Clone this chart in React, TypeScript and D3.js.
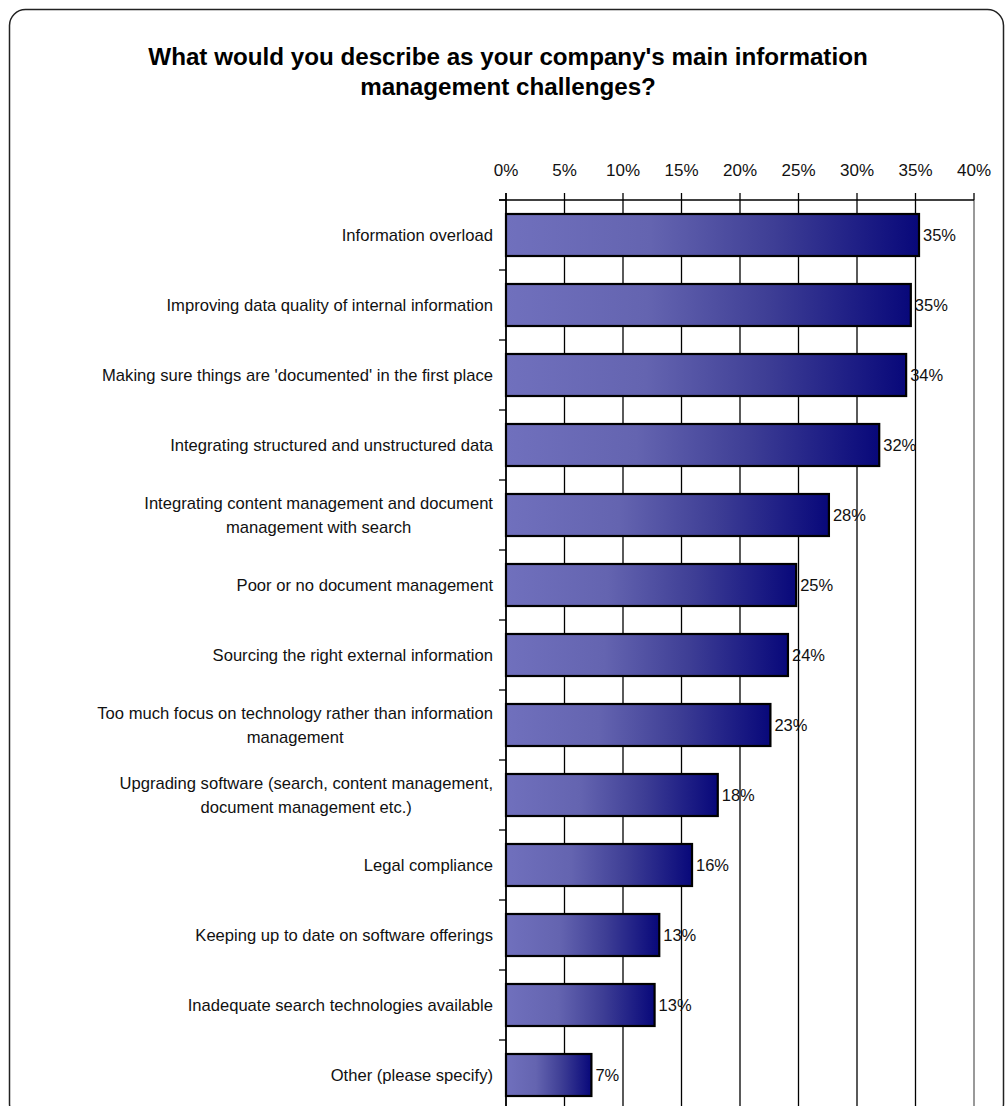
import React, { useEffect, useRef } from "react";
import * as d3 from "d3";

const categories: string[] = [
  "Information overload",
  "Improving data quality of internal information",
  "Making sure things are 'documented' in the first place",
  "Integrating structured and unstructured data",
  "Integrating content management and document\nmanagement with search",
  "Poor or no document management",
  "Sourcing the right external information",
  "Too much focus on technology rather than information\nmanagement",
  "Upgrading software (search, content management,\ndocument management etc.)",
  "Legal compliance",
  "Keeping up to date on software offerings",
  "Inadequate search technologies available",
  "Other (please specify)",
];
const values: number[] = [35.3, 34.6, 34.2, 31.9, 27.6, 24.8, 24.1, 22.6, 18.1, 15.9, 13.1, 12.7, 7.3];
const valueLabels: string[] = ["35%", "35%", "34%", "32%", "28%", "25%", "24%", "23%", "18%", "16%", "13%", "13%", "7%"];
const ticks: number[] = [0, 5, 10, 15, 20, 25, 30, 35, 40];
const titleLines: string[] = [
  "What would you describe as your company's main information",
  "management challenges?",
];

const W = 1007;
const H = 1106;
const FONT = "'Liberation Sans', Arial, Helvetica, sans-serif";

export default function App() {
  const ref = useRef<SVGSVGElement>(null);
  useEffect(() => {
    const svg = d3.select(ref.current);
    svg.selectAll("*").remove();

    const defs = svg.append("defs");
    const grad = defs
      .append("linearGradient")
      .attr("id", "barGrad")
      .attr("x1", "0")
      .attr("x2", "1")
      .attr("y1", "0")
      .attr("y2", "0");
    grad.append("stop").attr("offset", "0").attr("stop-color", "#7070bd");
    grad.append("stop").attr("offset", "0.35").attr("stop-color", "#6464b0");
    grad.append("stop").attr("offset", "0.65").attr("stop-color", "#3e3e95");
    grad.append("stop").attr("offset", "1").attr("stop-color", "#08087a");

    // frame
    svg
      .append("rect")
      .attr("x", 9.5)
      .attr("y", 9.5)
      .attr("width", 994)
      .attr("height", 1110)
      .attr("rx", 16)
      .attr("fill", "white")
      .attr("stroke", "#222")
      .attr("stroke-width", 1.5);

    // title
    titleLines.forEach((t, i) => {
      svg
        .append("text")
        .attr("x", 508)
        .attr("y", 65 + i * 30)
        .attr("text-anchor", "middle")
        .attr("font-family", FONT)
        .attr("font-weight", "bold")
        .attr("font-size", 24.2)
        .attr("fill", "#000")
        .text(t);
    });

    const x = d3.scaleLinear().domain([0, 40]).range([506, 974]);
    const y = d3
      .scaleBand<string>()
      .domain(categories)
      .range([200, 200 + 70 * categories.length])
      .paddingInner(0.4)
      .paddingOuter(0.2);

    const bottom = H + 10;

    // gridlines
    ticks.forEach((t) => {
      svg
        .append("line")
        .attr("x1", x(t))
        .attr("x2", x(t))
        .attr("y1", 193)
        .attr("y2", t === 40 ? 200 : bottom)
        .attr("stroke", "#000")
        .attr("stroke-width", 1.3);
      if (t === 40) {
        svg
          .append("line")
          .attr("x1", x(t))
          .attr("x2", x(t))
          .attr("y1", 200)
          .attr("y2", bottom)
          .attr("stroke", "#999")
          .attr("stroke-width", 2);
      }
      svg
        .append("text")
        .attr("x", x(t))
        .attr("y", 176)
        .attr("text-anchor", "middle")
        .attr("font-family", FONT)
        .attr("font-size", 17)
        .attr("fill", "#111")
        .text(t + "%");
    });

    // top axis line
    svg
      .append("line")
      .attr("x1", 499)
      .attr("x2", x(40))
      .attr("y1", 200)
      .attr("y2", 200)
      .attr("stroke", "#000")
      .attr("stroke-width", 1.3);

    // left ticks at band boundaries
    categories.forEach((_, i) => {
      const yy = 200 + 70 * i;
      svg
        .append("line")
        .attr("x1", 499)
        .attr("x2", 506)
        .attr("y1", yy)
        .attr("y2", yy)
        .attr("stroke", "#000")
        .attr("stroke-width", 1.3);
    });

    // bars
    categories.forEach((c, i) => {
      const by = y(c) as number;
      const bw = y.bandwidth();
      svg
        .append("rect")
        .attr("x", x(0))
        .attr("y", by)
        .attr("width", x(values[i]) - x(0))
        .attr("height", bw)
        .attr("fill", "url(#barGrad)")
        .attr("stroke", "#000")
        .attr("stroke-width", 2.2);
      svg
        .append("text")
        .attr("x", x(values[i]) + 4)
        .attr("y", by + bw / 2 + 6)
        .attr("font-family", FONT)
        .attr("font-size", 16.5)
        .attr("fill", "#111")
        .text(valueLabels[i]);

      // category label
      const lines = c.split("\n");
      const cy = by + bw / 2;
      const lh = 23.5;
      const g = svg.append("g");
      const texts = lines.map((ln, k) =>
        g
          .append("text")
          .attr("y", cy + 6 + (k - (lines.length - 1) / 2) * lh)
          .attr("text-anchor", "middle")
          .attr("font-family", FONT)
          .attr("font-size", 16.6)
          .attr("fill", "#111")
          .text(ln)
      );
      let maxW = 0;
      texts.forEach((t) => {
        const n = t.node() as SVGTextElement;
        maxW = Math.max(maxW, n.getComputedTextLength());
      });
      texts.forEach((t) => t.attr("x", 493 - maxW / 2));
    });

    // y axis line
    svg
      .append("line")
      .attr("x1", 506)
      .attr("x2", 506)
      .attr("y1", 193)
      .attr("y2", bottom)
      .attr("stroke", "#000")
      .attr("stroke-width", 1.5);
  }, []);

  return (
    <svg
      ref={ref}
      width={W}
      height={H}
      style={{ position: "absolute", left: 0, top: 0, background: "white" }}
    />
  );
}
